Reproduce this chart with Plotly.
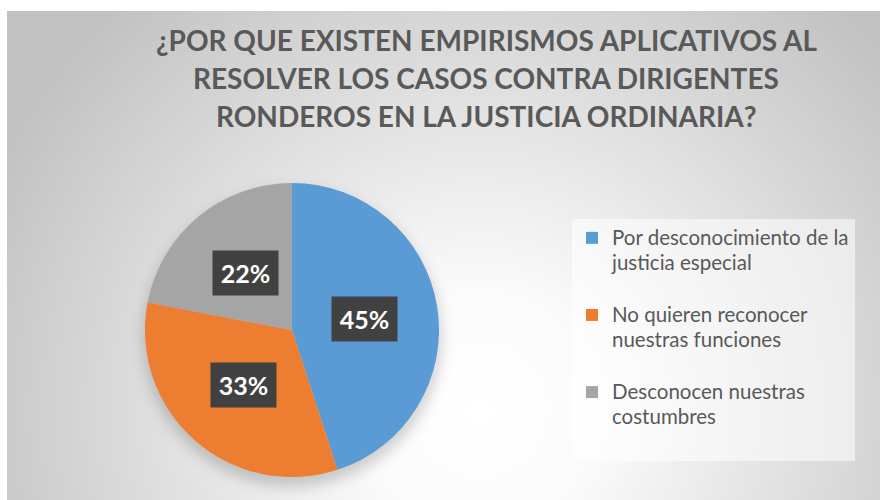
import base64
import math
import plotly.graph_objects as go

# ---- data ----
categories = [
    "Por desconocimiento de la<br>justicia especial",
    "No quieren reconocer<br>nuestras funciones",
    "Desconocen nuestras<br>costumbres",
]
values = [45, 33, 22]
colors = ["#5B9BD5", "#ED7D31", "#A5A5A5"]
title_lines = [
    "¿POR QUE EXISTEN EMPIRISMOS APLICATIVOS AL",
    "RESOLVER LOS CASOS CONTRA DIRIGENTES",
    "RONDEROS EN LA JUSTICIA ORDINARIA?",
]

W, H = 880, 500
cx, cy, R = 292, 330, 147  # pie centre / radius in px

# ---- background: radial gradient + soft pie shadow ----
svg = f'''<svg xmlns="http://www.w3.org/2000/svg" width="{W}" height="{H}" viewBox="0 0 {W} {H}">
<defs>
<radialGradient id="g" cx="480" cy="410" r="540" gradientUnits="userSpaceOnUse">
<stop offset="0" stop-color="#ffffff"/>
<stop offset="0.22" stop-color="#fbfbfb"/>
<stop offset="1" stop-color="#c2c2c2"/>
</radialGradient>
<filter id="b" x="-30%" y="-30%" width="160%" height="160%"><feGaussianBlur stdDeviation="7"/></filter>
</defs>
<rect x="0" y="0" width="{W}" height="{H}" fill="#ffffff"/>
<rect x="7" y="11" width="{W-7}" height="{H-11}" fill="url(#g)"/>
<ellipse cx="{cx}" cy="{cy+8}" rx="{R+2}" ry="{R+2}" fill="#000" fill-opacity="0.18" filter="url(#b)"/>
</svg>'''
bg_src = "data:image/svg+xml;base64," + base64.b64encode(svg.encode()).decode()

# legend labels: spacer line so the entries are spread like the original
legend_labels = [
    f'<span style="font-size:20.5px">{c}</span><br> ' for c in categories
]

fig = go.Figure()
fig.add_trace(go.Pie(
    labels=legend_labels,
    values=values,
    marker=dict(colors=colors, line=dict(width=0)),
    sort=False,
    direction="clockwise",
    rotation=0,
    textinfo="none",
    hoverinfo="percent",
    domain=dict(x=[(cx - R) / W, (cx + R) / W],
                y=[(H - cy - R) / H, (H - cy + R) / H]),
))

annotations = []
# data labels in dark boxes, placed at half radius along each slice's mid-angle
total = sum(values)
cum = 0
for v in values:
    mid = (cum + v / 2) / total * 2 * math.pi
    cum += v
    px = cx + 0.5 * R * math.sin(mid)
    py = (H - cy) + 0.5 * R * math.cos(mid)
    annotations.append(dict(
        x=px / W, y=py / H, xref="paper", yref="paper",
        text=f"<b>{v}%</b>", showarrow=False,
        font=dict(family="Lato, Open Sans, sans-serif", size=25, color="#ffffff"),
        bgcolor="#414141", width=63, height=42,
        xanchor="center", yanchor="middle",
    ))

# title lines
title_y = [40, 78, 116]
for t, ty in zip(title_lines, title_y):
    annotations.append(dict(
        x=486 / W, y=1 - ty / H, xref="paper", yref="paper",
        text=f"<b>{t}</b>", showarrow=False,
        font=dict(family="Lato, sans-serif", size=28, color="#595959"),
        xanchor="center", yanchor="middle",
    ))

fig.update_layout(
    width=W, height=H,
    margin=dict(l=0, r=0, t=0, b=0),
    paper_bgcolor="#ffffff",
    showlegend=True,
    legend=dict(
        x=572 / W, y=1 - 219 / H, xanchor="left", yanchor="top",
        bgcolor="rgba(255,255,255,0.55)",
        font=dict(family="Lato, Open Sans, sans-serif", size=19, color="#595959"),
        valign="top",
        tracegroupgap=0,
    ),
    annotations=annotations,
    images=[dict(source=bg_src, xref="paper", yref="paper", x=0, y=1,
                 sizex=1, sizey=1, sizing="stretch", layer="below",
                 xanchor="left", yanchor="top")],
)

fig.write_html(
    "out.html",
    config={"displayModeBar": False},
    post_script="document.body.style.margin='0px';document.body.style.overflow='hidden';",
)
